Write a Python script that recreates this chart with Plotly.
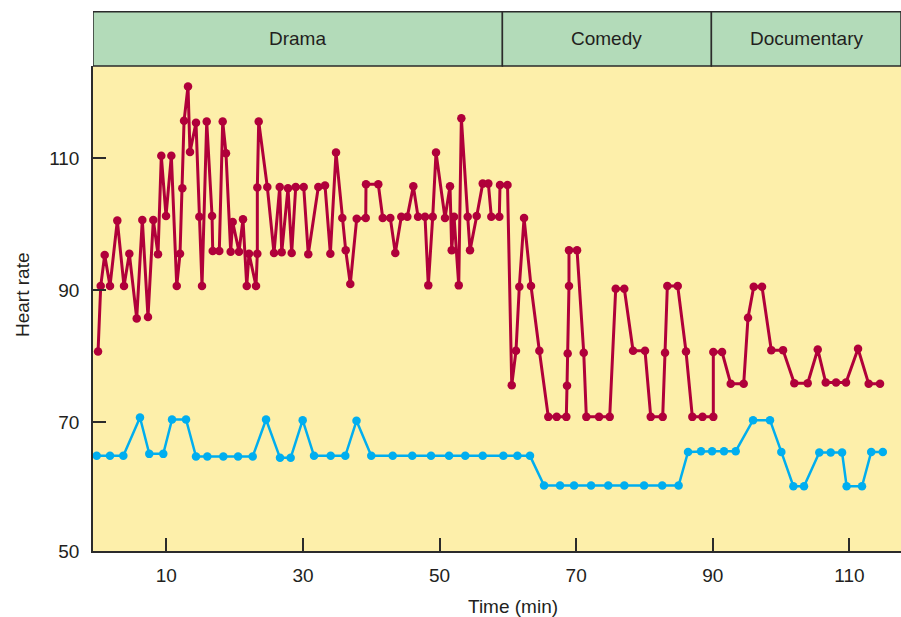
import plotly.graph_objects as go

# ---------------- data ----------------
red_x = [0.0, 0.39, 0.97, 1.75, 2.82, 3.8, 4.58, 5.66, 6.48, 7.31, 8.09, 8.78, 9.26, 9.95, 10.73,
         11.52, 12.0, 12.34, 12.59, 13.17, 13.46, 14.34, 14.83, 15.22, 15.91, 16.69, 16.79, 17.75,
         18.25, 18.73, 19.42, 19.71, 20.64, 21.22, 21.77, 22.1, 23.13, 23.32, 23.32, 23.52, 24.78,
         25.76, 26.6, 26.89, 27.81, 28.35, 28.94, 30.11, 30.78, 32.25, 33.23, 34.01, 34.84, 35.76,
         36.26, 36.93, 37.87, 39.19, 39.23, 41.03, 41.68, 42.79, 43.52, 44.4, 45.28, 46.16, 46.85,
         47.87, 48.35, 49.0, 49.48, 50.8, 51.53, 51.78, 52.12, 52.81, 53.19, 54.12, 54.46, 55.44,
         56.32, 57.14, 57.58, 58.75, 58.85, 59.95, 60.57, 61.19, 61.68, 62.37, 63.39, 64.61, 65.92,
         67.15, 68.56, 68.66, 68.76, 68.95, 68.95, 70.13, 71.11, 71.49, 73.35, 74.91, 75.79, 77.05,
         78.33, 80.08, 80.92, 82.67, 83.01, 83.35, 84.87, 86.08, 87.01, 88.5, 90.08, 90.08, 91.36,
         92.63, 94.53, 95.16, 96.0, 97.21, 98.57, 100.29, 101.94, 103.9, 105.37, 106.54, 108.05,
         109.51, 111.27, 112.83, 114.49]
red_y = [80.7, 90.6, 95.3, 90.6, 100.5, 90.6, 95.5, 85.7, 100.6, 85.9, 100.6, 95.4, 110.3, 101.2, 110.3,
         90.6, 95.5, 105.4, 115.6, 120.8, 110.9, 115.3, 101.1, 90.6, 115.5, 101.2, 95.9, 95.9,
         115.5, 110.7, 95.8, 100.3, 95.8, 100.7, 90.6, 95.5, 90.6, 95.5, 105.5, 115.5, 105.6,
         95.6, 105.6, 95.7, 105.4, 95.6, 105.6, 105.6, 95.4, 105.6, 105.8, 95.5, 110.8, 100.9,
         96.0, 90.9, 100.8, 100.9, 106.0, 106.0, 100.9, 100.9, 95.6, 101.1, 101.1, 105.7, 101.1,
         101.1, 90.7, 101.1, 110.8, 100.9, 105.7, 96.0, 101.1, 90.7, 116.0, 101.1, 96.0, 101.2,
         106.1, 106.1, 101.1, 101.1, 105.9, 105.9, 75.6, 80.8, 90.5, 100.9, 90.6, 80.8, 70.8,
         70.8, 70.8, 75.5, 80.4, 90.6, 96.0, 96.0, 80.5, 70.8, 70.8, 70.8, 90.2, 90.2,
         80.8, 80.8, 70.8, 70.8, 80.5, 90.6, 90.6, 80.7, 70.8, 70.8, 70.8, 80.6, 80.6,
         75.8, 75.8, 85.8, 90.5, 90.5, 80.9, 80.9, 75.9, 75.9, 81.0, 76.0, 76.0,
         76.0, 81.1, 75.8, 75.8]

blue_x = [-0.2, 1.75, 3.7, 6.14, 7.5, 9.55, 10.83, 12.88, 14.34, 16.0, 18.34, 20.5, 22.64, 24.6,
          26.64, 28.2, 29.96, 31.62, 34.06, 36.2, 37.84, 40.0, 43.14, 46.0, 48.75, 51.39, 53.76,
          56.32, 59.34, 61.4, 63.24, 65.3, 67.64, 69.69, 72.18, 74.7, 77.05, 79.94, 82.6, 85.0,
          86.38, 88.28, 89.9, 91.65, 93.36, 95.9, 98.38, 100.04, 101.8, 103.36, 105.6, 107.27,
          108.93, 109.6, 111.85, 113.2, 114.9]
blue_y = [64.9, 64.9, 64.9, 70.7, 65.2, 65.2, 70.4, 70.4, 64.8, 64.8, 64.8, 64.8, 64.8, 70.4,
          64.6, 64.6, 70.3, 64.9, 64.9, 64.9, 70.2, 64.9, 64.9, 64.9, 64.9, 64.9, 64.9,
          64.9, 64.9, 64.9, 64.9, 60.4, 60.4, 60.4, 60.4, 60.4, 60.4, 60.4, 60.4, 60.4,
          65.5, 65.6, 65.6, 65.6, 65.6, 70.3, 70.3, 65.5, 60.3, 60.3, 65.4, 65.4,
          65.4, 60.3, 60.3, 65.5, 65.5]

segment_names = ["Drama", "Comedy", "Documentary"]
segment_edges = [-0.74, 59.2, 89.8, 117.56]

x_tickvals = [10, 30, 50, 70, 90, 110]
x_ticktext = ["10", "30", "50", "70", "90", "110"]
y_tickvals = [50.5, 70, 90, 110]
y_ticktext = ["50", "70", "90", "110"]

x_range = [-0.74, 117.56]
y_range = [50.5, 123.9]

# ---------------- style ----------------
FONT = "Liberation Sans, Arial, Helvetica, sans-serif"
TXT = "#231f20"
AX = "#2b2b2b"
RED = "#b0003a"
BLUE = "#00aeef"
BG = "#fdefaa"
GREEN = "#b3dbb9"

fig = go.Figure()
fig.add_trace(go.Scatter(x=red_x, y=red_y, mode="lines+markers",
                         line=dict(color=RED, width=3),
                         marker=dict(color=RED, size=8.5), showlegend=False,
                         cliponaxis=False))
fig.add_trace(go.Scatter(x=blue_x, y=blue_y, mode="lines+markers",
                         line=dict(color=BLUE, width=2.5),
                         marker=dict(color=BLUE, size=8.5), showlegend=False,
                         cliponaxis=False))

header_top = 1 + 54.3 / 485
shapes = []
annotations = []
for i, name in enumerate(segment_names):
    x0, x1 = segment_edges[i], segment_edges[i + 1]
    shapes.append(dict(type="rect", xref="x", yref="paper", x0=x0, x1=x1, y0=1, y1=header_top,
                       fillcolor=GREEN, line=dict(color=AX, width=1.5), layer="above"))
    annotations.append(dict(text=name, xref="x", yref="paper", x=(x0 + x1) / 2,
                            y=(1 + header_top) / 2, showarrow=False,
                            font=dict(family=FONT, size=19, color=TXT),
                            xanchor="center", yanchor="middle"))

annotations.append(dict(text="Heart rate", xref="paper", yref="paper",
                        x=(22 - 93) / 808, y=(551 - 295) / 485, textangle=-90,
                        showarrow=False, font=dict(family=FONT, size=19, color=TXT),
                        xanchor="center", yanchor="middle"))
annotations.append(dict(text="Time (min)", xref="paper", yref="paper",
                        x=(513 - 93) / 808, y=(551 - 606) / 485,
                        showarrow=False, font=dict(family=FONT, size=19, color=TXT),
                        xanchor="center", yanchor="middle"))

fig.update_layout(
    width=901, height=617,
    margin=dict(l=93, r=0, t=66, b=66, pad=0),
    paper_bgcolor="white", plot_bgcolor=BG,
    font=dict(family=FONT, size=19, color=TXT),
    shapes=shapes, annotations=annotations,
    xaxis=dict(range=x_range, tickvals=x_tickvals, ticktext=x_ticktext,
               ticks="inside", ticklen=13, tickwidth=1.5, tickcolor=AX,
               showline=True, linecolor=AX, linewidth=1.5, showgrid=False,
               zeroline=False, ticklabelstandoff=6,
               tickfont=dict(family=FONT, size=19, color=TXT)),
    yaxis=dict(range=y_range, tickvals=y_tickvals, ticktext=y_ticktext,
               ticks="inside", ticklen=13, tickwidth=1.5, tickcolor=AX,
               showline=True, linecolor=AX, linewidth=1.5, showgrid=False,
               zeroline=False, ticklabelstandoff=8,
               tickfont=dict(family=FONT, size=19, color=TXT)),
)

fig.write_html("out.html",
               config={"displayModeBar": False},
               post_script="document.body.style.margin='0';document.body.style.overflow='hidden';")
